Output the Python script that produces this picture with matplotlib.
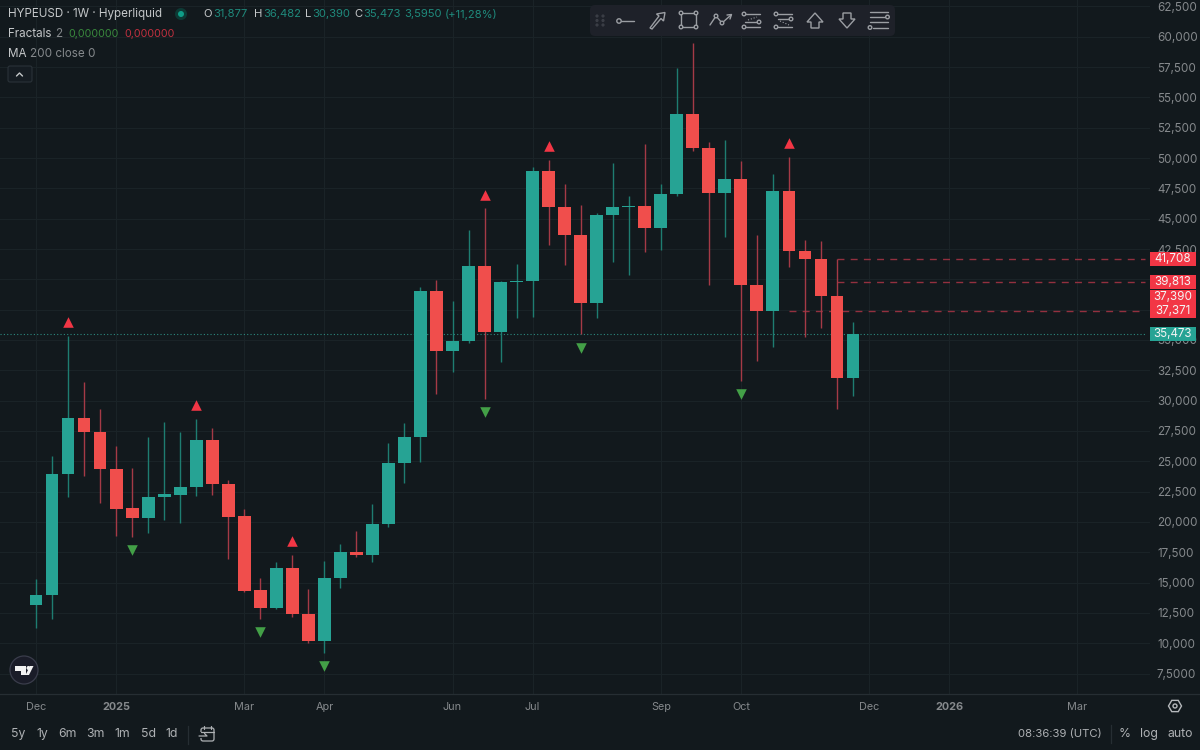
import matplotlib
matplotlib.use("Agg")
import matplotlib.pyplot as plt
import numpy as np
from matplotlib.patches import Circle, FancyBboxPatch, Polygon, Rectangle
from matplotlib.transforms import offset_copy

plt.rcParams["font.family"] = ["Inter", "DejaVu Sans"]

# weekly candles
opens = [13130, 13980, 23950, 28550, 27420, 24340, 21130, 20350, 22030, 22250, 22900, 26760, 23130,
         20490, 14390, 12880, 16230, 12440, 10160, 15350, 17550, 17280, 19830, 24840, 27030, 39060,
         34120, 34940, 41120, 35680, 39760, 39860, 48900, 45960, 43650, 38070, 45280, 45960, 46050,
         44210, 47030, 53630, 50800, 47090, 48270, 39530, 37370, 47280, 42360, 41710, 38650, 31877]
highs = [15300, 25440, 35350, 31560, 29310, 26260, 24450, 27030, 28260, 27420, 28490, 27720, 23460,
         21070, 15380, 16700, 17280, 14470, 16780, 18180, 19250, 21480, 26510, 28180, 39390, 39950,
         38210, 44070, 45860, 39860, 41240, 49280, 49840, 47830, 46130, 45440, 49610, 46890, 51160,
         47860, 57400, 59460, 51300, 51490, 49780, 43650, 48680, 50110, 43240, 43160, 41708, 36482]
lows = [11260, 12000, 22060, 23790, 21560, 18840, 18760, 19090, 20160, 19910, 22140, 22220, 16950,
        14250, 12000, 12820, 12170, 10020, 9220, 14580, 17140, 16700, 19580, 23240, 24920, 30550,
        32340, 34730, 30160, 33210, 36840, 36920, 42830, 41180, 35470, 36840, 41430, 40380, 42280,
        42420, 46890, 50600, 39530, 43460, 31640, 33270, 34450, 40990, 35220, 36010, 29310, 30390]
closes = [13980, 23950, 28550, 27420, 24340, 21070, 20330, 22080, 22280, 22910, 26760, 23100, 20430,
          14330, 12880, 16230, 12390, 10160, 15360, 17550, 17280, 19830, 24840, 27030, 39060, 34120,
          34940, 41120, 35680, 39760, 39860, 48900, 45960, 43650, 38070, 45280, 45960, 46070, 44210,
          47030, 53630, 50800, 47090, 48270, 39530, 37370, 47280, 42360, 41710, 38650, 31877, 35473]

fractal_up = [2, 10, 16, 28, 32, 47]
fractal_down = [6, 14, 18, 28, 34, 44]

y_ticks = list(range(7500, 62501, 2500))
# 37,500 and 40,000 sit fully behind the price tags in the reference
y_hidden = [37500, 40000]
y_labels = ["7,5000"] + ["" if v in y_hidden else f"{v:,}" for v in y_ticks[1:]]
x_ticks = [0, 5, 13, 18, 26, 31, 39, 44, 52, 57, 65]
x_labels = ["Dec", "2025", "Mar", "Apr", "Jun", "Jul", "Sep", "Oct", "Dec", "2026", "Mar"]

tag_values = [41708, 39813, 37390, 37371, 35473]
tag_shift = [0, 0, -14, 0, 0]
level_values = [41708, 39813, 37371]
level_start = [50, 50, 47]
last_price = 35473

BG = "#12191d"
GRID = "#1a2327"
GREEN = "#26a394"
RED = "#f04e4c"
GREEN_WICK = "#1e7d71"
RED_WICK = "#a53a46"
TEXT = "#c4c7c9"
MUTED = "#85898c"
ICON = "#9b9ea3"

fig = plt.figure(figsize=(12, 7.5), dpi=100, facecolor=BG)
ax = fig.add_axes([0, 56 / 750, 1150 / 1200, 694 / 750], facecolor=BG)
ax.set_xlim(-2.247, 69.54)
ax.set_ylim(5819, 63025)

x = np.arange(len(opens))
o = np.array(opens)
h = np.array(highs)
l = np.array(lows)
c = np.array(closes)
up = c >= o

ax.vlines(x[up], l[up], h[up], color=GREEN_WICK, lw=1.0, zorder=2)
ax.vlines(x[~up], l[~up], h[~up], color=RED_WICK, lw=1.0, zorder=2)
ax.bar(x[up], (c - o)[up], bottom=o[up], width=0.8, color=GREEN, linewidth=0, zorder=3)
ax.bar(x[~up], (c - o)[~up], bottom=o[~up], width=0.8, color=RED, linewidth=0, zorder=3)

# fractal arrows sit a fixed distance off the wick ends
above = offset_copy(ax.transData, fig=fig, y=9.7, units="points")
below = offset_copy(ax.transData, fig=fig, y=-9.7, units="points")
ax.scatter(x[fractal_up], h[fractal_up], marker="^", s=58, color="#f23645", linewidths=0, transform=above, zorder=4)
ax.scatter(x[fractal_down], l[fractal_down], marker="v", s=58, color="#43a047", linewidths=0, transform=below, zorder=4)

for val, start in zip(level_values, level_start):
    ax.plot([start, 69.2], [val, val], color="#93303f", lw=1.0, dashes=(5, 4.5), zorder=1.5)
ax.plot([-2.247, 69.2], [last_price, last_price], color="#2b8a7f", lw=0.8, dashes=(1, 2), zorder=1.5)

ax.set_yticks(y_ticks, y_labels)
ax.set_xticks(x_ticks, x_labels)
ax.yaxis.tick_right()
ax.tick_params(axis="y", length=0, pad=5, labelsize=8.4, labelcolor=MUTED)
ax.tick_params(axis="x", length=0, pad=5.5, labelsize=7.8, labelcolor=MUTED)
for lab in ax.get_xticklabels():
    if lab.get_text() in ("2025", "2026"):
        lab.set_fontweight("bold")
ax.grid(True, color=GRID, lw=0.8)
ax.set_axisbelow(True)
for s in ax.spines.values():
    s.set_visible(False)

# page furniture in pixel coordinates
ui = fig.add_axes([0, 0, 1, 1], facecolor="none")
ui.set_xlim(0, 1200)
ui.set_ylim(750, 0)
ui.axis("off")


def label(px, py, s, color=TEXT, size=8.4, ha="left", **kw):
    ui.text(px, py, s, color=color, fontsize=size, ha=ha, va="center", **kw)


def ring(px, py, r=2.2, color=ICON, lw=1.0):
    ui.add_patch(Circle((px, py), r, facecolor="#1e2129", edgecolor=color, lw=lw, zorder=6))


def stroke(xs, ys, color=ICON, lw=1.0, **kw):
    ui.plot(xs, ys, color=color, lw=lw, zorder=5, solid_capstyle="round", **kw)


ui.plot([0, 1200], [694, 694], color="#262e33", lw=0.9)

# header
label(8, 14, "HYPEUSD · 1W · Hyperliquid")
ui.add_patch(Circle((181, 14), 6, color="#0d3a35", lw=0))
ui.add_patch(Circle((181, 14), 3, color="#0f9d87", lw=0))
teal = "#1f8a7c"
for px, s, col in [(203, "O", TEXT), (213, "31,877", teal), (254, "H", TEXT), (263, "36,482", teal),
                   (305, "L", TEXT), (312, "30,390", teal), (354, "C", TEXT), (363, "35,473", teal),
                   (404, "3,5950", teal), (445, "(+11,28%)", teal)]:
    label(px, 14, s, col, 8.1)
label(8, 34, "Fractals")
label(55, 34, "2", MUTED)
label(68, 34, "0,000000", "#39893d", 7.7)
label(124, 34, "0,000000", "#c0303f", 7.7)
label(8, 54, "MA")
label(30, 54, "200 close 0", MUTED)
ui.add_patch(FancyBboxPatch((8, 66), 24, 16, boxstyle="round,pad=0,rounding_size=2", facecolor="#151c22",
                            edgecolor="#2a3238", lw=0.8))
stroke([16.5, 19.5, 22.5], [76, 73, 76], color="#c4c7c9", lw=1.0)

# drawing toolbar
ui.add_patch(FancyBboxPatch((590, 5), 305, 31, boxstyle="round,pad=0,rounding_size=5", facecolor="#1e2129",
                            edgecolor="none", zorder=4))
for gx in (597, 603):
    for gy in (16, 20.5, 25):
        ui.add_patch(Circle((gx, gy), 0.9, color="#3b3e46", zorder=5))
stroke([621, 634], [21, 21])
ring(619, 21)
ui.add_patch(Polygon([(650, 28), (659, 16), (656.5, 14), (665, 12.5), (663.5, 21), (661, 18.5), (652, 29)],
                     closed=True, facecolor="none", edgecolor=ICON, lw=1.0, zorder=5))
ui.add_patch(Rectangle((681, 13), 15, 14, facecolor="none", edgecolor=ICON, lw=1.0, zorder=5))
for cx, cy in [(681, 13), (696, 13), (681, 27), (696, 27)]:
    ring(cx, cy, 1.8)
stroke([710, 716, 722, 731], [25, 16, 23, 15])
stroke([727, 731.5, 730], [15, 14.5, 19])
for cx, cy in [(716, 16), (722, 23)]:
    ring(cx, cy, 1.8)
for ly, a, b in [(14, 746, 760), (22, 745, 757), (27, 746, 760)]:
    stroke([a, b], [ly, ly])
stroke([748, 757], [20, 17], ls=":", lw=0.8)
for cx, cy in [(744, 14), (759, 22), (744, 27)]:
    ring(cx, cy, 1.8)
for ly, a, b in [(14, 778, 792), (19, 778, 789), (27, 778, 792)]:
    stroke([a, b], [ly, ly])
stroke([780, 789], [21, 25], ls=":", lw=0.8)
for cx, cy in [(776, 14), (791, 19), (776, 27)]:
    ring(cx, cy, 1.8)
ui.add_patch(Polygon([(815, 13), (823, 22), (819, 22), (819, 28), (811, 28), (811, 22), (807, 22)],
                     closed=True, facecolor="none", edgecolor=ICON, lw=1.0, zorder=5))
ui.add_patch(Polygon([(847, 28), (855, 19), (851, 19), (851, 13), (843, 13), (843, 19), (839, 19)],
                     closed=True, facecolor="none", edgecolor=ICON, lw=1.0, zorder=5))
for ly, a, b in [(12, 870, 888), (17, 870, 885), (22, 870, 888), (28, 873, 888)]:
    stroke([a, b], [ly, ly])
ring(887.5, 17, 1.8)
ring(870, 27.5, 1.8)

# price tags, the close ones get pushed apart
for val, shift in zip(tag_values, tag_shift):
    py = ui.transData.inverted().transform(ax.transData.transform((0, val)))[1] + shift
    col = GREEN if val == last_price else "#f23645"
    ui.add_patch(Rectangle((1150, py - 7), 46, 14, facecolor=col, edgecolor="none", zorder=7))
    ui.text(1173, py, f"{val:,}", color="#f4f4f4", fontsize=8.4, ha="center", va="center", zorder=8)

# tradingview badge
ui.add_patch(Circle((24, 670), 14, facecolor="#1a1c28", edgecolor="#3a3d4b", lw=0.9))
ui.add_patch(Polygon([(15, 666), (26, 666), (26, 675), (21, 675), (21, 671), (15, 671)], color="#f2f2f2", lw=0))
ui.add_patch(Circle((28.5, 668), 2, color="#f2f2f2", lw=0))
ui.add_patch(Polygon([(33.5, 666), (29, 675), (25.5, 675), (30, 666)], color="#f2f2f2", lw=0))

# bottom bar
for px, s in [(18, "5y"), (42, "1y"), (67, "6m"), (95, "3m"), (122, "1m"), (148, "5d"), (172, "1d")]:
    label(px, 734, s, "#aeb1b4", 8.8, ha="center")
ui.plot([188, 188], [726, 744], color="#262e33", lw=0.9)
ui.add_patch(FancyBboxPatch((201, 728), 13, 13, boxstyle="round,pad=0,rounding_size=2", facecolor="none",
                            edgecolor="#aeb1b4", lw=0.9))
ui.add_patch(Rectangle((198, 732), 7, 6, facecolor=BG, edgecolor="none", zorder=3))
stroke([201, 214], [731.5, 731.5], color="#aeb1b4", lw=0.9)
stroke([204, 204], [726, 729], color="#aeb1b4", lw=0.9)
stroke([211, 211], [726, 729], color="#aeb1b4", lw=0.9)
stroke([199, 207, 204.5], [736, 736, 733.5], color="#aeb1b4", lw=0.9)

label(1102, 734, "08:36:39 (UTC)", "#aeb1b4", 8.2, ha="right")
ui.plot([1111, 1111], [725, 743], color="#262e33", lw=0.9)
label(1125, 734, "%", "#aeb1b4", 8.8, ha="center")
label(1149, 734, "log", "#aeb1b4", 8.8, ha="center")
label(1180, 734, "auto", "#aeb1b4", 8.8, ha="center")
angles = np.deg2rad(np.arange(0, 360, 60))
ui.add_patch(Polygon(np.c_[1175 + 6.5 * np.cos(angles), 706 + 6.5 * np.sin(angles)], closed=True,
                     facecolor="none", edgecolor="#b5b8bb", lw=1.0))
ui.add_patch(Circle((1175, 706), 2, facecolor="none", edgecolor="#b5b8bb", lw=1.0))

fig.savefig("out.png", dpi=100, facecolor=BG)
